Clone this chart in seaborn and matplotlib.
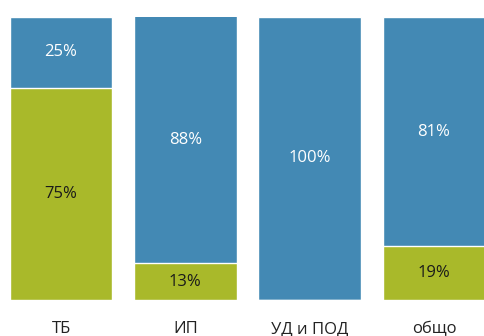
import matplotlib
matplotlib.use("Agg")
import matplotlib.pyplot as plt
import seaborn as sns
import pandas as pd

categories = ["ТБ", "ИП", "УД и ПОД", "общо"]
green_vals = [75, 13, 0, 19]
blue_vals = [25, 88, 100, 81]

BLUE = "#4389b4"
GREEN = "#a9b92a"

sns.set_theme(style="white")
plt.rcParams["font.family"] = ["Open Sans", "DejaVu Sans"]

df = pd.DataFrame({
    "cat": categories,
    "green": green_vals,
    "blue": blue_vals,
})
df["total"] = df["green"] + df["blue"]

fig = plt.figure(figsize=(4.84, 3.36), dpi=100)
ax = fig.add_axes([0, 36 / 336, 1, 283 / 336])

width = 0.828
sns.barplot(data=df, x="cat", y="total", color=BLUE, width=width,
            edgecolor="white", linewidth=1, saturation=1, ax=ax)
sns.barplot(data=df, x="cat", y="green", color=GREEN, width=width,
            edgecolor="white", linewidth=1, saturation=1, ax=ax)

ax.set_ylim(0, 100)
ax.set_xlim(-0.4906, 3.402)
ax.set_xlabel("")
ax.set_ylabel("")
ax.set_yticks([])
for s in ax.spines.values():
    s.set_visible(False)
ax.tick_params(axis="x", length=0, pad=15, labelsize=12, labelcolor="#222222")

for i, (g, b) in enumerate(zip(green_vals, blue_vals)):
    if g > 0:
        ax.text(i, g / 2, f"{g}%", ha="center", va="center",
                fontsize=12, color="#1a1a1a")
    if b > 0:
        top = min(g + b, 100)
        ax.text(i, (g + top) / 2, f"{b}%", ha="center", va="center",
                fontsize=12, color="white")

fig.savefig("out.png", dpi=100)
